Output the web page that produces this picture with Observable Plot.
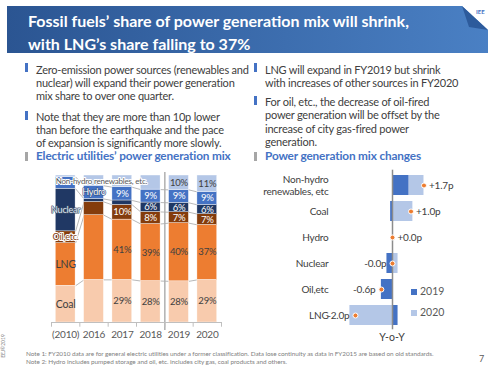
<!DOCTYPE html>
<html><head><meta charset="utf-8">
<script src="https://cdn.jsdelivr.net/npm/d3@7"></script>
<script src="https://cdn.jsdelivr.net/npm/@observablehq/plot@0.6"></script>
<style>
body{margin:0;width:496px;height:371px;background:#fff;position:relative;overflow:hidden;font-family:Lato,"Open Sans",sans-serif;}
.abs{position:absolute;white-space:nowrap;}
#hdr{left:7px;top:6px;width:481px;height:47px;background:linear-gradient(90deg,#2b5592,#4a80c4);clip-path:polygon(0 0,455px 0,481px 24px,481px 47px,0 47px);}
#fold{left:462px;top:6px;width:26px;height:26px;background:#2d5b9c;clip-path:polygon(0 0,26px 24px,7px 21px);}
#title{left:28px;top:8.5px;color:#fff;font-weight:bold;font-size:16px;line-height:23px;}
.txt{color:#404040;font-size:11px;line-height:13px;letter-spacing:-0.22px;}
.mk{width:3px;height:9px;background:#4472c4;}
.mk.g{background:#a6a6a6;}
.head{color:#4472c4;font-weight:bold;font-size:11.8px;line-height:14px;letter-spacing:-0.15px;}
.note{color:#808080;font-size:6.4px;line-height:8px;letter-spacing:-0.05px;}
svg{position:absolute;overflow:visible;}
svg text{letter-spacing:-0.2px;}
</style></head><body>
<div id="hdr" class="abs"></div>
<div id="fold" class="abs"></div>
<div class="abs" style="left:476px;top:8px;color:#4472c4;font-weight:bold;font-size:6px;">IEE</div>
<div id="title" class="abs">Fossil fuels’ share of power generation mix will shrink,<br>with LNG’s share falling to 37%</div>

<div class="abs mk" style="left:25px;top:63px"></div>
<div class="abs txt" style="left:36px;top:62.5px">Zero-emission power sources (renewables and<br>nuclear) will expand their power generation<br>mix share to over one quarter.</div>
<div class="abs mk" style="left:25px;top:111px"></div>
<div class="abs txt" style="left:36px;top:109.5px">Note that they are more than 10p lower<br>than before the earthquake and the pace<br>of expansion is significantly more slowly.</div>
<div class="abs mk g" style="left:25px;top:152px"></div>
<div class="abs head" style="left:36px;top:149px">Electric utilities’ power generation mix</div>

<div class="abs mk" style="left:254px;top:63px"></div>
<div class="abs txt" style="left:265px;top:62.5px">LNG will expand in FY2019 but shrink<br>with increases of other sources in FY2020</div>
<div class="abs mk" style="left:254px;top:96px"></div>
<div class="abs txt" style="left:265px;top:94.5px;line-height:13.5px">For oil, etc., the decrease of oil-fired<br>power generation will be offset by the<br>increase of city gas-fired power<br>generation.</div>
<div class="abs mk g" style="left:254px;top:152px"></div>
<div class="abs head" style="left:265px;top:149px">Power generation mix changes</div>

<div class="abs" style="left:411px;top:289px;width:6px;height:6px;background:#4472c4"></div>
<div class="abs" style="left:420px;top:285px;font-size:10.5px;color:#595959">2019</div>
<div class="abs" style="left:411px;top:310px;width:6px;height:6px;background:#b4c7e7"></div>
<div class="abs" style="left:420px;top:306px;font-size:10.5px;color:#595959">2020</div>
<div class="abs" style="left:372px;top:331px;width:40px;text-align:center;font-size:10.5px;color:#404040">Y-o-Y</div>

<div class="abs" style="left:-9px;top:343px;font-size:5px;color:#808080;transform:rotate(-90deg);">EEJ©2019</div>
<div class="abs note" style="left:26px;top:350px">Note 1: FY2010 data are for general electric utilities under a former classification. Data lose continuity as data in FY2015 are based on old standards.<br>Note 2: Hydro includes pumped storage and oil, etc. includes city gas, coal products and others.</div>
<div class="abs" style="left:479px;top:353px;font-size:9px;color:#595959">7</div>

<div id="left"></div>
<div id="right"></div>
<script>
// ---- Left chart data (percent share) ----
const years = ["(2010)","2016","2017","2018","2019","2020"];
const sourceNames = ["Coal","LNG","Oil,etc.","Nuclear","Hydro","Non-hydro renewables, etc."];
const coal    = [25, 29, 29, 28.2, 28.0, 29.0];
const lng     = [29, 44, 41, 38.8, 39.6, 37.4];
const oil     = [8, 9, 10, 8.2, 7.4, 7.3];
const nuclear = [29, 2, 3, 6.4, 6.4, 6.3];
const hydro   = [8, 9, 9, 8.8, 8.8, 8.8];
const renew   = [1, 7, 8, 9.6, 9.8, 11.2];
const segColors = ["#f8cbad","#ed7d31","#843c0c","#203864","#4472c4","#b4c7e7"];
const pctColors = ["#404040","#404040","#ffffff","#ffffff","#ffffff","#404040"];
const labelFrom = [2, 2, 2, 3, 2, 4];     // first year index with a % label
const nameAt    = [0, 0, 0, 0, 1, 0];     // year index carrying the series name

// ---- Right chart data (p change) ----
const changeCats = ["Non-hydro\nrenewables, etc","Coal","Hydro","Nuclear","Oil,etc","LNG"];
const chg2019 = [0.9, -0.1, 0.0, -0.3, -0.6, 0.3];
const chg2020 = [0.8, 1.1, 0.0, 0.3, 0.0, -2.3];
const chgTotal = [1.7, 1.0, 0.0, -0.0, -0.6, -2.0];
const chgLabels = ["+1.7p","+1.0p","+0.0p","-0.0p","-0.6p","-2.0p"];
const chgYears = ["2019","2020"];
const chgColors = ["#4472c4","#b4c7e7"];

const seriesVals = [coal, lng, oil, nuclear, hydro, renew];
const rows = [];
years.forEach((yr, i) => {
  let acc = 0;
  seriesVals.forEach((vals, k) => {
    rows.push({i, k, y1: acc, y2: acc + vals[i], v: vals[i]});
    acc += vals[i];
  });
});
const rowAt = (i, k) => rows.find(r => r.i === i && r.k === k);
const links = [];
for (let k = 0; k < 5; k++) for (let i = 0; i < years.length - 1; i++)
  links.push({x1: i + 0.35, x2: i + 0.65, y1: rowAt(i, k).y2, y2: rowAt(i + 1, k).y2});

const nameStyles = [
  {fill:"#404040", fontSize:10.5},
  {fill:"#404040", fontSize:10.5},
  {fill:"#843c0c", stroke:"#ffffff", strokeWidth:2, fontSize:9},
  {fill:"#dae3f3", stroke:"#44546a", strokeWidth:1.2, fontSize:9},
  {fill:"#ffffff", stroke:"#2f4f7f", strokeWidth:1.2, fontSize:9},
  {fill:"#595959", stroke:"#ffffff", strokeWidth:2, fontSize:8, textAnchor:"start", dy:6}
];
const nameMarks = sourceNames.map((name, k) => {
  const r = rowAt(nameAt[k], k);
  const st = nameStyles[k];
  return Plot.text([r], {
    x: d => st.textAnchor === "start" ? d.i - 0.35 : d.i,
    y: d => st.textAnchor === "start" ? d.y2 - st.dy / 1.47 : (d.y1 + d.y2) / 2,
    text: () => name, paintOrder: "stroke", ...st, dy: 0
  });
});

const left = Plot.plot({
  width: 245, height: 185,
  marginLeft: 51, marginRight: 24, marginTop: 15, marginBottom: 23,
  style: {fontFamily: "Lato, sans-serif", fontSize: "10px", background: "transparent"},
  x: {domain: [-0.5, 5.5], axis: null},
  y: {domain: [0, 100], axis: null},
  marks: [
    Plot.link(links, {x1: "x1", x2: "x2", y1: "y1", y2: "y2", stroke: "#a6a6a6", strokeWidth: 0.8}),
    Plot.rect(rows, {x1: d => d.i - 0.35, x2: d => d.i + 0.35, y1: "y1", y2: "y2", fill: d => segColors[d.k], stroke: "#ffffff", strokeWidth: 0.4}),
    Plot.ruleX([3.5], {y1: -5.5, y2: 102, stroke: "#b0b0b0", strokeWidth: 1.5}),
    Plot.ruleY([0], {x1: -0.5, x2: 5.5, stroke: "#bfbfbf"}),
    Plot.ruleX(d3.range(-0.5, 6, 1), {y1: 0, y2: -3.2, stroke: "#bfbfbf"}),
    Plot.axisX(d3.range(years.length), {tickFormat: i => years[i], tickSize: 0, tickPadding: 8, fontSize: 10, color: "#595959"}),
    Plot.text(rows.filter(r => r.i >= labelFrom[r.k]), {
      x: "i", y: d => (d.y1 + d.y2) / 2, text: d => Math.round(d.v) + "%",
      fill: d => pctColors[d.k], fontSize: 9.5
    }),
    ...nameMarks
  ]
});
left.style.left = "0px"; left.style.top = "160px";
document.getElementById("left").appendChild(left);

const chgRows = [];
changeCats.forEach((c, i) => {
  chgRows.push({cat: c, year: "2019", v: chg2019[i]});
  chgRows.push({cat: c, year: "2020", v: chg2020[i]});
});
const idx = d3.range(changeCats.length);
const right = Plot.plot({
  width: 246, height: 185,
  marginLeft: 92, marginRight: 54, marginTop: 9.7, marginBottom: 15.7,
  style: {fontFamily: "Lato, sans-serif", fontSize: "10px", background: "transparent"},
  x: {domain: [-2.7, 2.7], axis: null},
  y: {domain: changeCats, paddingInner: 0.25, paddingOuter: 0.125, axis: null},
  color: {domain: chgYears, range: chgColors},
  marks: [
    Plot.barX(chgRows, Plot.stackX({y: "cat", x: "v", fill: "year", order: chgYears})),
    Plot.ruleX([0], {stroke: "#8c8c8c", strokeWidth: 1.5}),
    Plot.text(changeCats, {y: d => d, text: d => d, frameAnchor: "left", textAnchor: "end", dx: -14, fill: "#404040", fontSize: 10, lineHeight: 1.15}),
    Plot.dot(idx, {x: i => chgTotal[i], y: i => changeCats[i], r: 2.5, fill: "#ed7d31", stroke: "#ffffff", strokeWidth: 1}),
    Plot.text(idx, {filter: i => !chgLabels[i].startsWith("-"), x: i => chgTotal[i], y: i => changeCats[i], text: i => chgLabels[i], textAnchor: "start", dx: 5, fill: "#404040", fontSize: 10}),
    Plot.text(idx, {filter: i => chgLabels[i].startsWith("-"), x: i => chgTotal[i], y: i => changeCats[i], text: i => chgLabels[i], textAnchor: "end", dx: -6, fill: "#404040", fontSize: 10})
  ]
});
right.style.left = "250px"; right.style.top = "160px";
document.getElementById("right").appendChild(right);
</script>
</body></html>
